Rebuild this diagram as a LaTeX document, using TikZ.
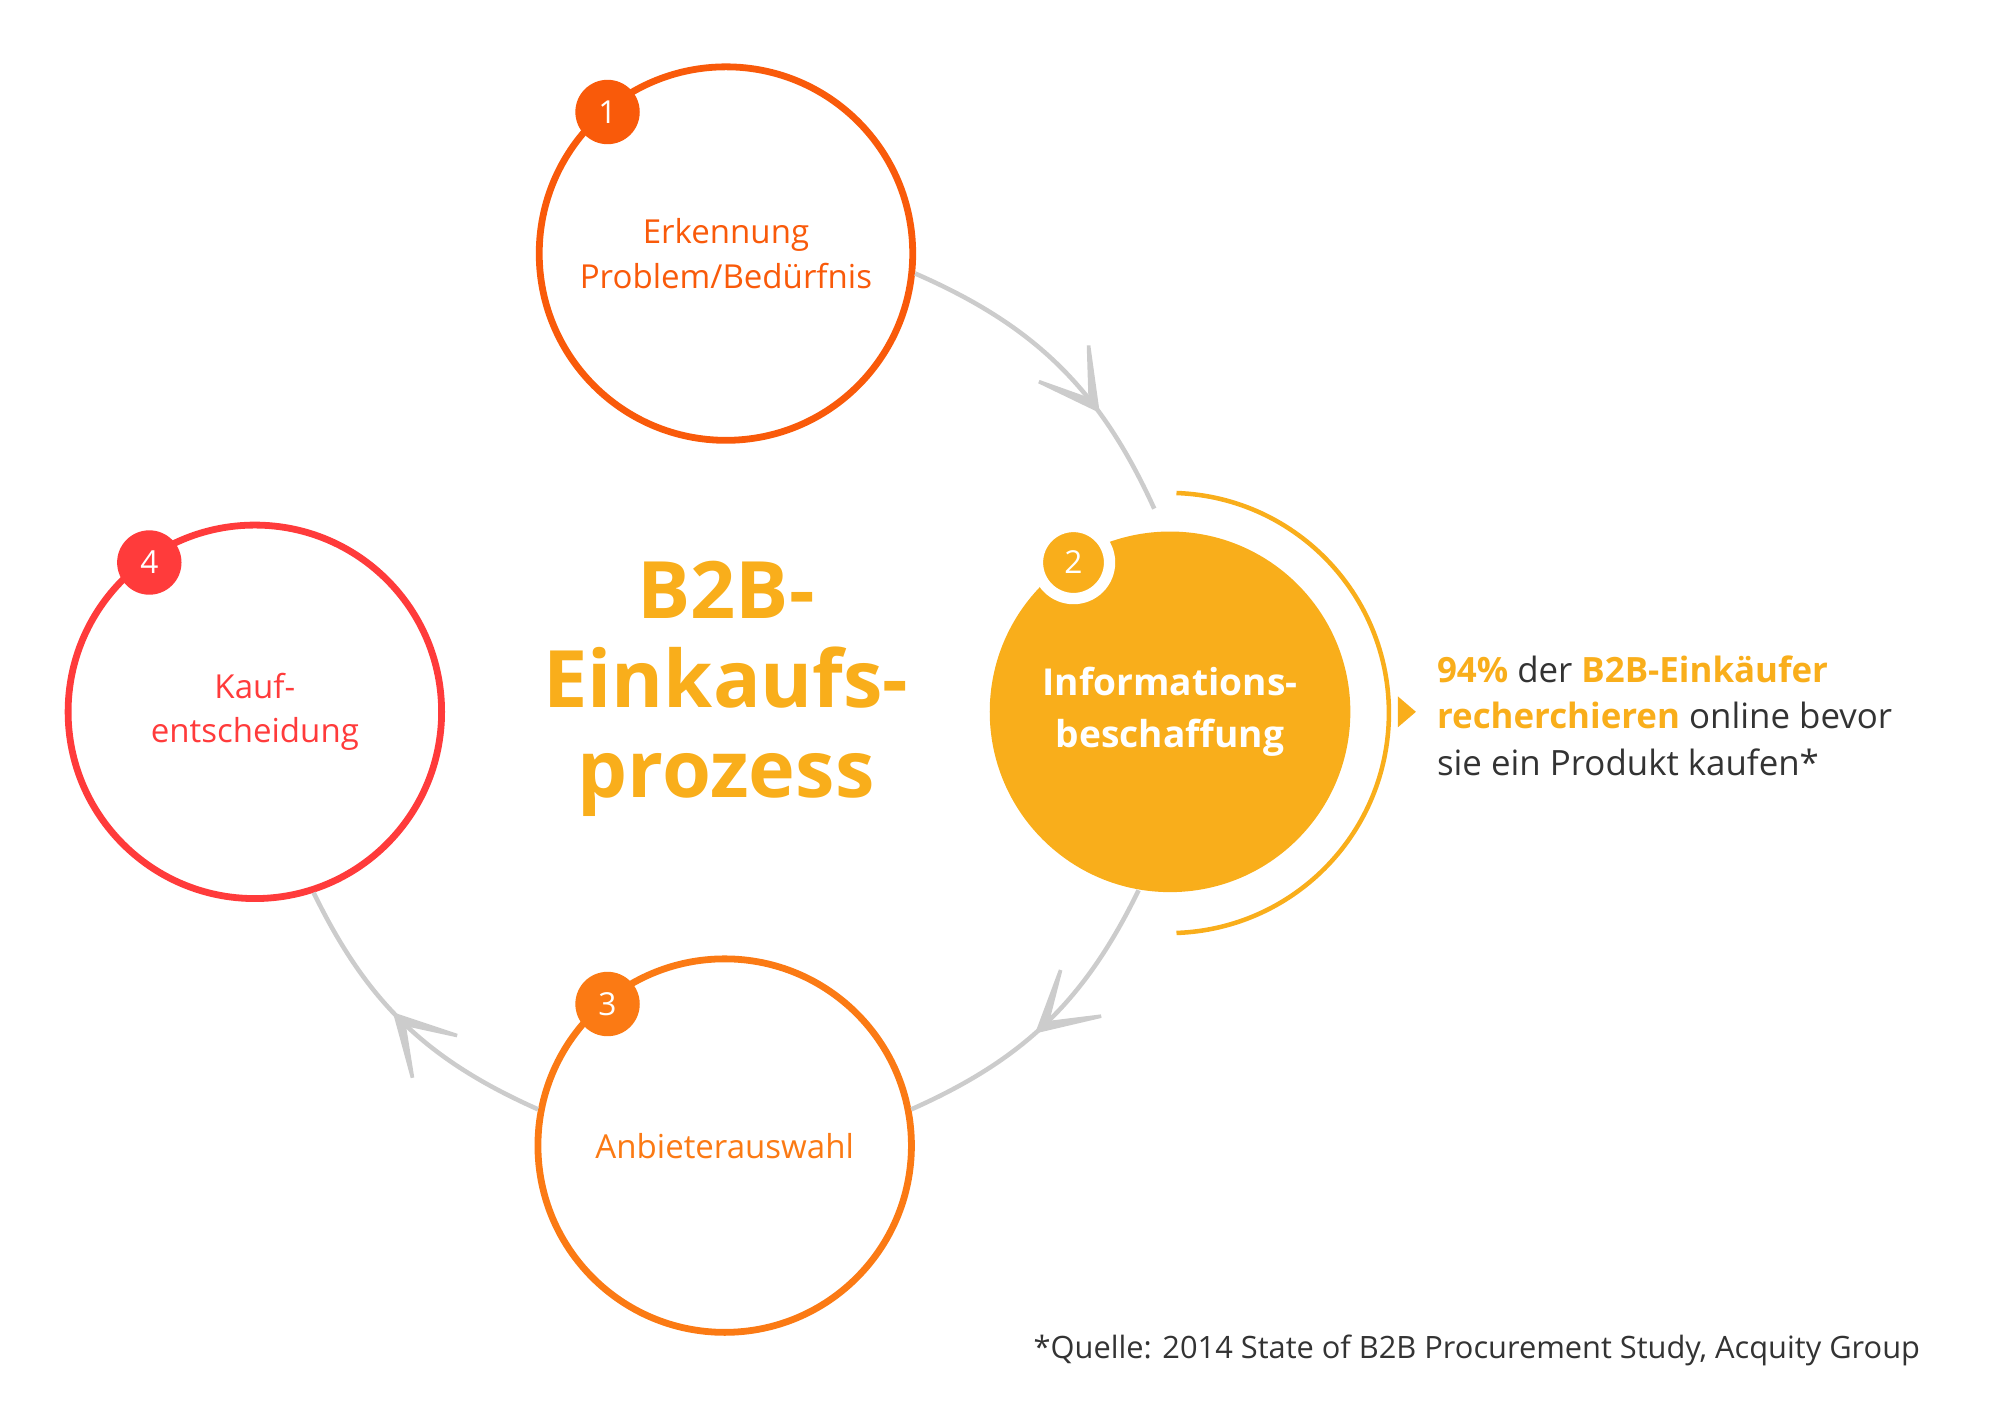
\documentclass[tikz,border=0pt]{standalone}
\usepackage{fontspec}
\setmainfont{Open Sans}
\usetikzlibrary{arrows.meta,decorations.markings}
\definecolor{redorange}{HTML}{F95A0A}
\definecolor{gold}{HTML}{F9AE1B}
\definecolor{orange}{HTML}{FB7A14}
\definecolor{brightred}{HTML}{FF3B3B}
\definecolor{textgray}{HTML}{333333}
\definecolor{arcgray}{HTML}{CCCCCC}
\tikzset{
  phase/.style={circle, draw=#1, line width=1.5pt, minimum size=2.9cm, text=#1, align=center, font=\fontsize{7.3}{9.8}\selectfont},
  badge/.style={circle, fill=#1, text=white, minimum size=0.5cm, inner sep=0pt, font=\fontsize{7}{8}\selectfont},
  flow/.style={arcgray, line width=1pt, postaction={decorate}, decoration={markings,
    mark=at position #1 with {\arrow{Stealth[length=7mm,width=7.5mm,inset=5.5mm,line width=0.8pt]}}}}
}
\begin{document}
\begin{tikzpicture}[x=0.01cm,y=0.01cm]
  \useasboundingbox (0,0) rectangle (1560,-1102);

  % phases
  \node[phase=redorange] (erkennung) at (564,-197) {Erkennung\\Problem/Bedürfnis};
  \node[circle, fill=gold, minimum size=2.8cm, text=white, align=center,
        font=\bfseries\fontsize{8.2}{11.3}\selectfont] (info) at (909,-553) {Informations-\\beschaffung};
  \node[phase=orange] (auswahl) at (563,-890) {Anbieterauswahl};
  \node[phase=brightred] (kauf) at (198,-553) {Kauf-\\entscheidung};

  % badges
  \node[badge=redorange] (b1) at (472,-87) {1};
  \node[badge=gold, draw=white, line width=2.5pt, minimum size=0.56cm] (b2) at (834,-437) {2};
  \node[badge=orange] (b3) at (472,-780) {3};
  \node[badge=brightred] (b4) at (116,-437) {4};

  % cycle
  \draw[flow=0.68] (erkennung.-6) to[bend left=21] ([yshift=5pt]info.95);
  \draw[flow=0.55] (info.-100) to[bend left=20] (auswahl.11);
  \draw[flow=0.55] (auswahl.169) to[bend left=20] (kauf.-72);

  % bracket with pointer
  \draw[gold, line width=1pt] (info.center) ++(5,170) arc[start angle=88, end angle=-88, radius=171];
  \coordinate (tip) at (1100,-553);
  \fill[gold] (tip) -- (1086,-541) -- (1086,-565) -- cycle;

  % title
  \node[gold, align=center, font=\bfseries\fontsize{17.5}{19.8}\selectfont] (title) at (564,-535) {B2B-\\Einkaufs-\\prozess};

  % statistic
  \node[anchor=west, align=left, text=textgray, font=\fontsize{7.7}{10.2}\selectfont] (stat) at (1104,-556)
    {{\color{gold}\bfseries 94\%} der {\color{gold}\bfseries B2B-Einkäufer}\\{\color{gold}\bfseries recherchieren} online bevor\\sie ein Produkt kaufen*};

  % source
  \node[anchor=east, text=textgray, font=\fontsize{6.8}{8}\selectfont] (quelle) at (1504,-1049)
    {*Quelle: 2014 State of B2B Procurement Study, Acquity Group};
\end{tikzpicture}
\end{document}
